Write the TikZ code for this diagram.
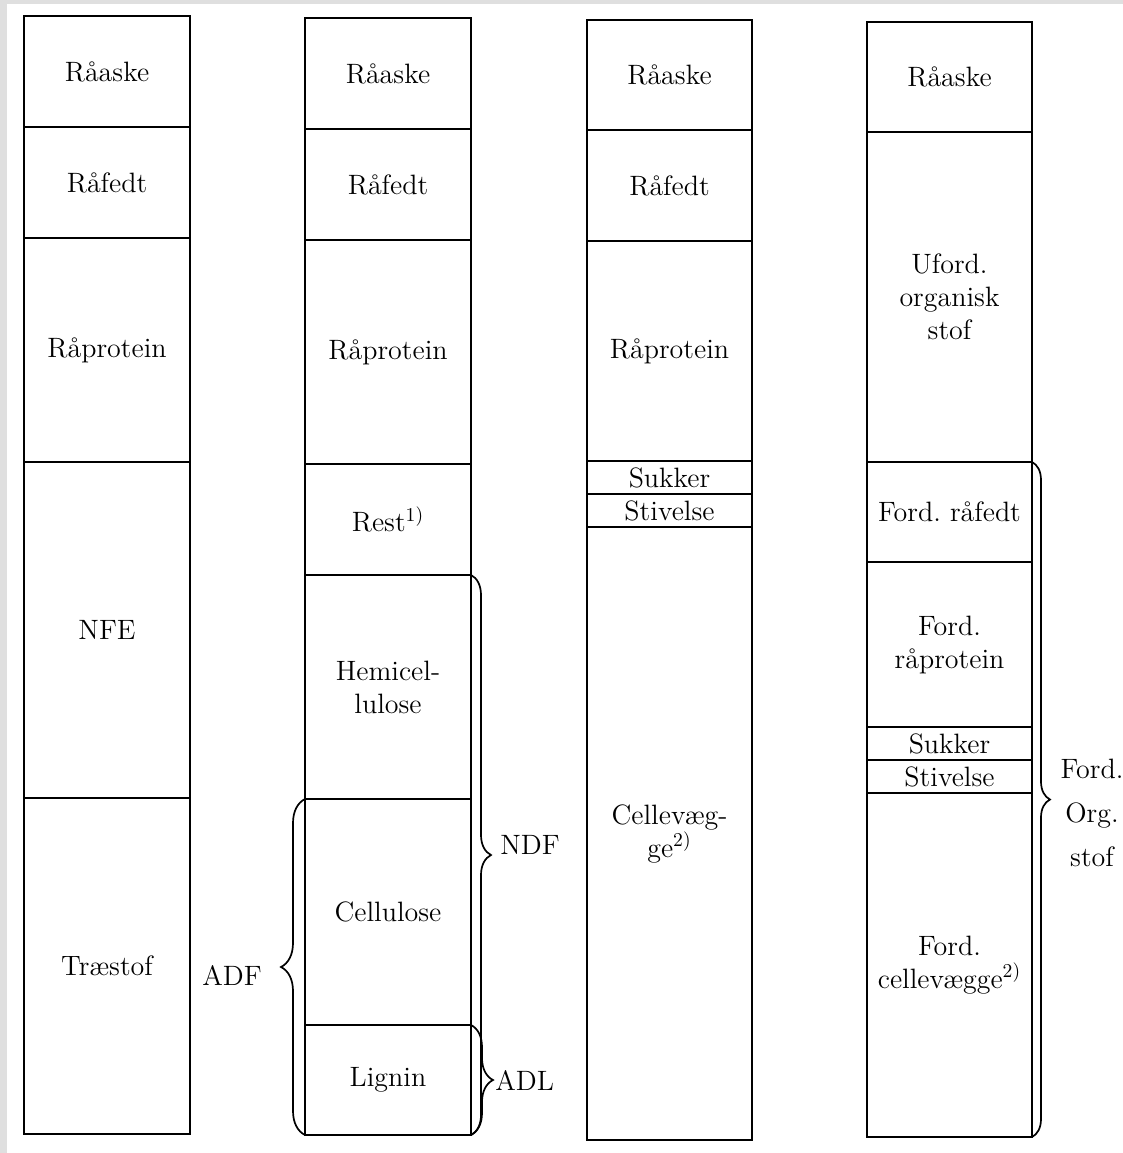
\documentclass[tikz,border=0pt]{standalone}
\usetikzlibrary{positioning,decorations.pathreplacing}
\frenchspacing
\begin{document}
\begin{tikzpicture}[x=0.5pt,y=-0.5pt,
	cell/.style={draw,line width=0.85pt,minimum width=83pt,inner sep=0pt,outer sep=0pt,
		align=center,font=\fontsize{14}{16.5}\selectfont},
	lbl/.style={align=center,inner sep=0pt,font=\fontsize{14}{16.5}\selectfont},
	brc/.style={draw,line width=0.85pt,decorate,decoration={brace,amplitude=#1}},
	brc/.default=9pt]
		\fill[gray!25] (0,0) rectangle (1123,1153);
		\fill[white] (7,4) rectangle (1123,1153);
		\useasboundingbox (0,0) rectangle (1123,1153);
		% column 1
		\node[cell,minimum height=55.5pt] (a1) at (107,71.5) {Råaske};
		\node[cell,minimum height=55.5pt,below=0pt of a1] (a2) {Råfedt};
		\node[cell,minimum height=112pt,below=0pt of a2] (a3) {Råprotein};
		\node[cell,minimum height=168pt,below=0pt of a3] (a4) {NFE};
		\node[cell,minimum height=168pt,below=0pt of a4] (a5) {Træstof};
		% column 2
		\node[cell,minimum height=55.5pt] (b1) at (388,73.5) {Råaske};
		\node[cell,minimum height=55.5pt,below=0pt of b1] (b2) {Råfedt};
		\node[cell,minimum height=112pt,below=0pt of b2] (b3) {Råprotein};
		\node[cell,minimum height=55.5pt,below=0pt of b3] (b4) {Rest\textsuperscript{1)}};
		\node[cell,minimum height=112pt,below=0pt of b4] (b5) {Hemicel-\\lulose};
		\node[cell,minimum height=113pt,below=0pt of b5] (b6) {Cellulose};
		\node[cell,minimum height=55pt,below=0pt of b6] (b7) {Lignin};
		% column 3
		\node[cell,minimum width=82.5pt,minimum height=55pt] (c1) at (669.5,75) {Råaske};
		\node[cell,minimum width=82.5pt,minimum height=55.5pt,below=0pt of c1] (c2) {Råfedt};
		\node[cell,minimum width=82.5pt,minimum height=110pt,below=0pt of c2] (c3) {Råprotein};
		\node[cell,minimum width=82.5pt,minimum height=16.5pt,below=0pt of c3] (c4) {Sukker};
		\node[cell,minimum width=82.5pt,minimum height=16.5pt,below=0pt of c4] (c5) {Stivelse};
		\node[cell,minimum width=82.5pt,minimum height=306.5pt,below=0pt of c5] (c6) {Cellevæg-\\ge\textsuperscript{2)}};
		% column 4
		\node[cell,minimum width=82.5pt,minimum height=55pt] (d1) at (949.5,77) {Råaske};
		\node[cell,minimum width=82.5pt,minimum height=165pt,below=0pt of d1] (d2) {Uford.\\organisk\\stof};
		\node[cell,minimum width=82.5pt,minimum height=50pt,below=0pt of d2] (d3) {Ford. råfedt};
		\node[cell,minimum width=82.5pt,minimum height=82.5pt,below=0pt of d3] (d4) {Ford.\\råprotein};
		\node[cell,minimum width=82.5pt,minimum height=16.5pt,below=0pt of d4] (d5) {Sukker};
		\node[cell,minimum width=82.5pt,minimum height=16.5pt,below=0pt of d5] (d6) {Stivelse};
		\node[cell,minimum width=82.5pt,minimum height=172pt,below=0pt of d6] (d7) {Ford.\\cellevægge\textsuperscript{2)}};
		% braces
		\draw[brc=12pt] (b7.south west) -- (b6.north west);
		\node[lbl] (adf) at (232,975) {ADF};
		\draw[brc=10pt] (b5.north east) -- (b7.south east);
		\node[lbl] (ndf) at (530,845) {NDF};
		\draw[brc=11pt] (b7.north east) -- (b7.south east);
		\node[lbl,anchor=west] (adl) at (495,1080) {ADL};
		\draw[brc=9pt] (d2.south east) -- (d7.south east);
		\node[lbl,font=\fontsize{14}{22}\selectfont] (ford) at (1092,813) {Ford.\\Org.\\stof};
\end{tikzpicture}
\end{document}
